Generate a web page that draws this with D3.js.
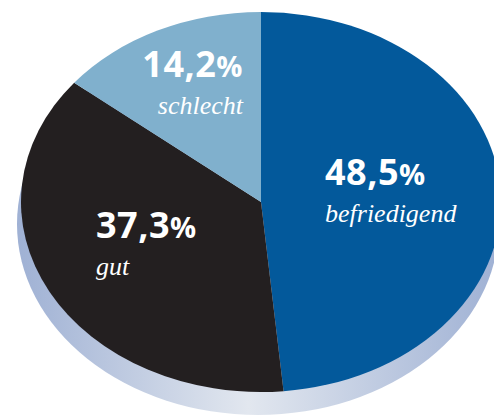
<!DOCTYPE html>
<html>
<head>
<meta charset="utf-8">
<script src="https://cdn.jsdelivr.net/npm/d3@7"></script>
<style>
  html, body { margin: 0; padding: 0; background: #fff; overflow: hidden; }
</style>
</head>
<body>
<div id="container"></div>
<script>
// data
const categories = ["befriedigend", "gut", "schlecht"];
const values = [48.5, 37.3, 14.2];
const valueLabels = ["48,5", "37,3", "14,2"];
const sliceColors = ["#03599b", "#231f20", "#80b0cd"];

const width = 494,
  height = 415;

// pie geometry (top face of the tilted disk)
const cx = 261, cy = 202, rx = 240, ry = 190;
const depth = 22, shiftX = -3;

// label placement per slice
const labelPos = {
  befriedigend: { x: 325, y: 185, anchor: "start" },
  gut: { x: 96, y: 238, anchor: "start" },
  schlecht: { x: 243, y: 77, anchor: "end" }
};

const data = categories.map((c, i) => ({ name: c, value: values[i], label: valueLabels[i], color: sliceColors[i] }));

const svg = d3.select("#container")
  .append("svg")
  .attr("width", width)
  .attr("height", height);

const defs = svg.append("defs");
const grad = defs.append("linearGradient")
  .attr("id", "rim")
  .attr("x1", "0%").attr("x2", "100%")
  .attr("y1", "0%").attr("y2", "0%");
grad.append("stop").attr("offset", "0%").attr("stop-color", "#9fb1d4");
grad.append("stop").attr("offset", "48%").attr("stop-color", "#e2e7ef");
grad.append("stop").attr("offset", "100%").attr("stop-color", "#9fb1d4");

// side / shadow of the disk
svg.append("ellipse")
  .attr("cx", cx + shiftX)
  .attr("cy", cy + depth)
  .attr("rx", rx + 1)
  .attr("ry", ry + 1)
  .attr("fill", "url(#rim)");

const pie = d3.pie()
  .sort(null)
  .value(d => d.value);

const arc = d3.arc()
  .innerRadius(0)
  .outerRadius(rx);

const face = svg.append("g")
  .attr("transform", `translate(${cx},${cy}) scale(1,${ry / rx})`);

face.selectAll("path.slice")
  .data(pie(data))
  .join("path")
  .attr("class", "slice")
  .attr("d", arc)
  .attr("fill", d => d.data.color);

// labels
const labels = svg.selectAll("g.label")
  .data(data)
  .join("g")
  .attr("class", "label")
  .attr("transform", d => `translate(${labelPos[d.name].x},${labelPos[d.name].y})`);

const num = labels.append("text")
  .attr("text-anchor", d => labelPos[d.name].anchor)
  .attr("fill", "#fff")
  .style("font-family", "'Open Sans', sans-serif")
  .style("font-weight", "700")
  .style("font-size", "36px")
  .style("letter-spacing", "0.5px");
num.append("tspan").text(d => d.label);
num.append("tspan").style("font-size", "29px").text("%");

labels.append("text")
  .attr("y", 37)
  .attr("text-anchor", d => labelPos[d.name].anchor)
  .attr("fill", "#fff")
  .style("font-family", "'Liberation Serif', serif")
  .style("font-style", "italic")
  .style("font-size", "26px")
  .text(d => d.name);
</script>
</body>
</html>
